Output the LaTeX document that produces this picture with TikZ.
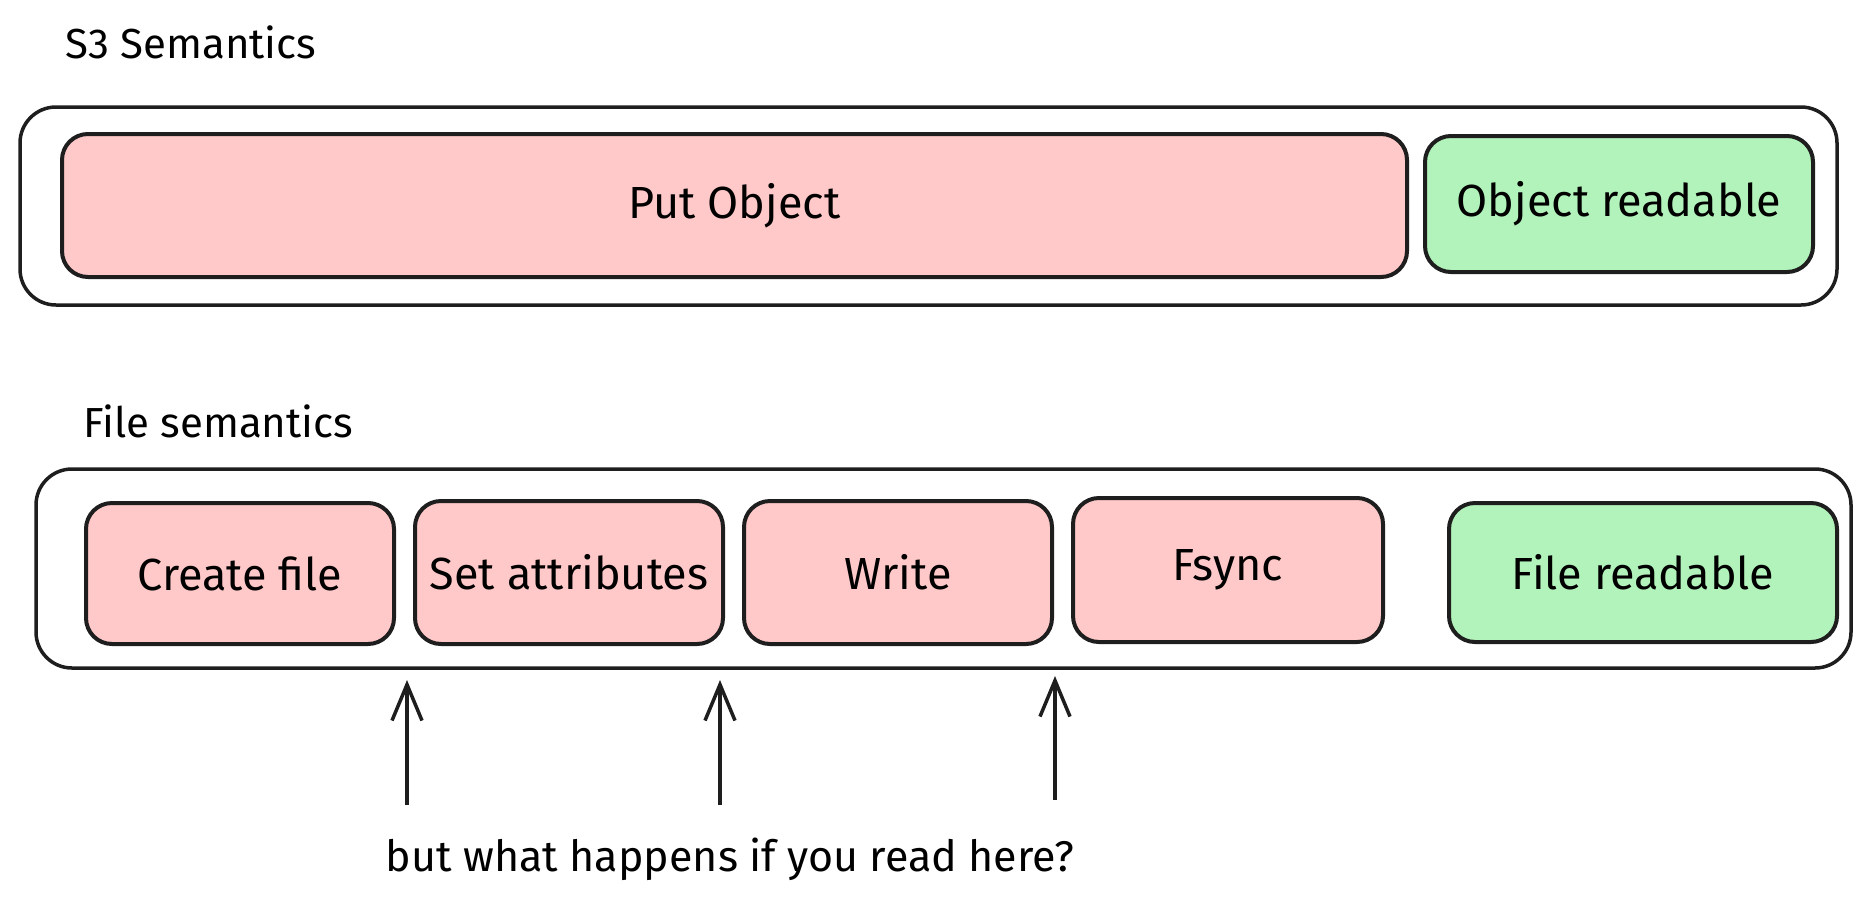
\documentclass[tikz,border=0pt]{standalone}
\usepackage{fontspec}
\setmainfont{Fira Sans}
\usetikzlibrary{arrows.meta}
\definecolor{stepred}{RGB}{255,201,201}
\definecolor{readgreen}{RGB}{178,242,187}
\definecolor{inkgray}{RGB}{30,30,30}

\begin{document}
\begin{tikzpicture}[x=1pt,y=-1pt,
  frame/.style={draw=inkgray, line width=3.5pt, rounded corners=36pt},
  redbox/.style={draw=inkgray, fill=stepred, line width=4pt, rounded corners=26pt, font=\fontsize{45}{52}\selectfont},
  greenbox/.style={redbox, fill=readgreen},
  title/.style={anchor=west, font=\fontsize{42}{50}\selectfont},
  readarrow/.style={-{Straight Barb[length=36pt,width=30pt]}, line width=3.5pt, draw=inkgray}]
\useasboundingbox (0,0) rectangle (1870,905);
% S3 semantics
\node[title] (s3title) at (62,42) {S3 Semantics};
\node[frame, minimum width=1817pt, minimum height=198pt] (s3frame) at (928.5,206) {};
\node[redbox, minimum width=1345pt, minimum height=143pt] (putobj) at (734.5,205.5) {Put Object};
\node[greenbox, minimum width=388pt, minimum height=136pt] (objread) at (1619,204) {Object readable};
% file semantics
\node[title] (fstitle) at (80,421) {File semantics};
\node[frame, minimum width=1815pt, minimum height=199pt] (fsframe) at (943.5,568.5) {};
\node[redbox, minimum width=308pt, minimum height=141pt] (create) at (240,573.5) {Create file};
\node[redbox, minimum width=308pt, minimum height=143pt] (setattr) at (569,572.5) {Set attributes};
\node[redbox, minimum width=308pt, minimum height=143pt] (write) at (898,572.5) {Write};
\node[redbox, minimum width=310pt, minimum height=144pt] (fsync) at (1228,570) {Fsync};
\node[greenbox, minimum width=388pt, minimum height=139pt] (fileread) at (1643,572.5) {File readable};
% read points
\coordinate (r1) at (407,805);
\coordinate (r2) at (720,805);
\coordinate (r3) at (1055,800);
\coordinate (t1) at (407,680);
\coordinate (t2) at (720,680);
\coordinate (t3) at (1055,676);
\draw[readarrow] (r1) -- (t1);
\draw[readarrow] (r2) -- (t2);
\draw[readarrow] (r3) -- (t3);
\node[font=\fontsize{43}{50}\selectfont] (question) at (730,859) {but what happens if you read here?};
\end{tikzpicture}
\end{document}
